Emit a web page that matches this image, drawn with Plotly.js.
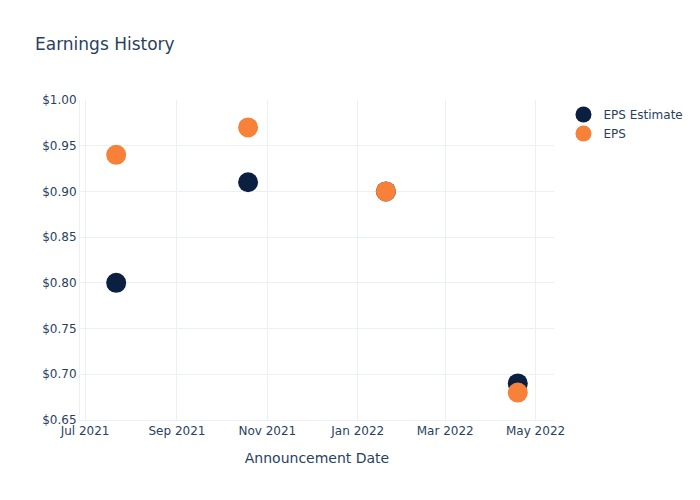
<!DOCTYPE html>
<html>
<head>
<meta charset="utf-8">
<script src="https://cdn.plot.ly/plotly-3.0.1.min.js"></script>
<style>html,body{margin:0;padding:0;}</style>
</head>
<body>
<div id="chart" style="width:700px;height:500px;"></div>
<script>
const dates = ["2021-07-22", "2021-10-19", "2022-01-20", "2022-04-19"];
const epsEstimate = [0.80, 0.91, 0.90, 0.69];
const eps = [0.94, 0.97, 0.90, 0.68];

const traces = [
  {x: dates, y: epsEstimate, name: "EPS Estimate", type: "scatter", mode: "markers",
   marker: {color: "#0b1f40", size: 20}},
  {x: dates, y: eps, name: "EPS", type: "scatter", mode: "markers",
   marker: {color: "#f8813a", size: 20}}
];
const axisStyle = {gridcolor: "#EBF0F8", linecolor: "#EBF0F8", zerolinecolor: "#EBF0F8", zerolinewidth: 2, ticks: "", automargin: true};
const layout = {
  width: 700, height: 500,
  title: {text: "Earnings History", x: 0.05},
  font: {family: "DejaVu Sans, Open Sans, sans-serif", color: "#2a3f5f", size: 12},
  paper_bgcolor: "white", plot_bgcolor: "white",
  xaxis: Object.assign({title: {text: "Announcement Date", standoff: 15}}, axisStyle),
  yaxis: Object.assign({title: {standoff: 15}, range: [0.65, 1.0], tickprefix: "$", tickformat: ".2f", dtick: 0.05}, axisStyle)
};
Plotly.newPlot("chart", traces, layout, {displayModeBar: false});
</script>
</body>
</html>
